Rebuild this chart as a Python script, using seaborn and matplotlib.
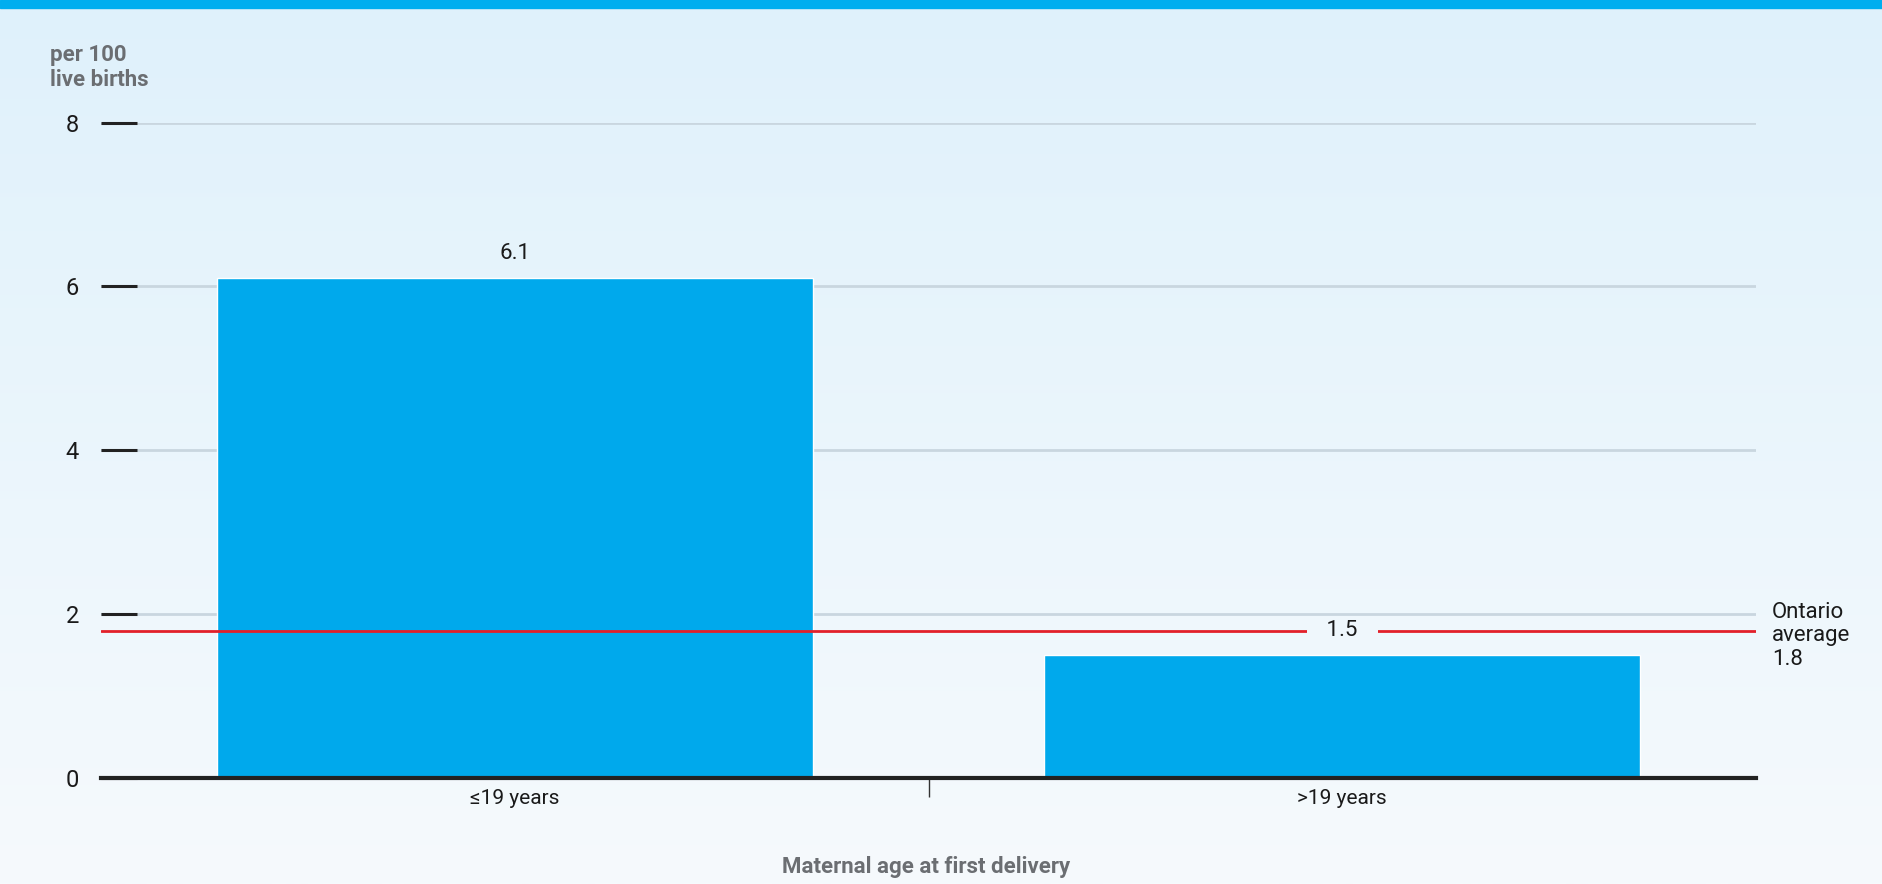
import numpy as np
import pandas as pd
import matplotlib
matplotlib.use("Agg")
import matplotlib.pyplot as plt
import matplotlib.colors as mcolors
import matplotlib.transforms as mtransforms
from matplotlib.patches import Rectangle
import seaborn as sns

# ---- data ----
categories = ["≤19 years", ">19 years"]
values = [6.1, 1.5]
value_labels = ["6.1", "1.5"]
ontario_average = 1.8
ontario_label = "Ontario\naverage\n1.8"
y_ticks = [0, 2, 4, 6, 8]
x_title = "Maternal age at first delivery"
y_title = "per 100\nlive births"

sns.set_theme(style="white")
plt.rcParams["font.family"] = ["Roboto", "DejaVu Sans"]

LIGHT = ["Roboto", "DejaVu Sans"]
BOLD = ["Liberation Sans Narrow", "Roboto", "DejaVu Sans"]
TXT = "#1a1a1a"
W_TXT = "normal"

W, H = 1883, 884
fig = plt.figure(figsize=(W / 100, H / 100), dpi=100)

# background gradient
top_c = np.array(mcolors.to_rgb("#dff1fb"))
bot_c = np.array(mcolors.to_rgb("#f6fafd"))
t = np.linspace(0, 1, 512)[:, None, None]
grad = top_c[None, None, :] * (1 - t) + bot_c[None, None, :] * t
bg = fig.add_axes([0, 0, 1, 1], zorder=-10)
bg.imshow(grad, aspect="auto", extent=[0, 1, 0, 1], origin="upper")
bg.set_xlim(0, 1); bg.set_ylim(0, 1)
bg.axis("off")
fig.patches.append(Rectangle((0, 1 - 8 / H), 1, 8 / H, transform=fig.transFigure,
                             color="#00aeef", zorder=5))

left, right = 101 / W, 1756 / W
bottom, top = 1 - 778 / H, 1 - 122.5 / H
ax = fig.add_axes([left, bottom, right - left, top - bottom])
ax.patch.set_alpha(0)

df = pd.DataFrame({"cat": categories, "val": values})
sns.barplot(data=df, x="cat", y="val", color="#00a9ec", saturation=1,
            width=0.72, ax=ax, zorder=2)

ax.set_xlim(-0.5, 1.5)
ax.set_ylim(0, 8)
ax.set_yticks(y_ticks)
ax.set_yticklabels([str(v) for v in y_ticks], fontsize=17, color=TXT,
                   family=LIGHT, fontweight=W_TXT)
ax.yaxis.grid(True, color="#c9d6df", lw=2)
ax.set_axisbelow(True)
ax.tick_params(axis="y", direction="in", length=26, width=2.2, color="#222222",
               pad=16, left=True)
for s in ["top", "right", "left"]:
    ax.spines[s].set_visible(False)
ax.spines["bottom"].set_color("#222222")
ax.spines["bottom"].set_linewidth(3)
ax.spines["bottom"].set_zorder(4)

ax.set_xticks([0, 1])
ax.set_xticklabels(categories, fontsize=15, color=TXT, family=LIGHT,
                   fontweight=W_TXT)
ax.tick_params(axis="x", length=0, pad=8)
ax.set_xticks([0.5], minor=True)
ax.tick_params(axis="x", which="minor", direction="out", length=14, width=1,
               color="#333333", bottom=True)

ax.set_xlabel("")
ax.set_ylabel("")

# Ontario average line
ax.axhline(ontario_average, color="#e2202a", lw=2, zorder=3)

# value labels
bg_at_line = top_c * (1 - 633 / H) + bot_c * (633 / H)
bars = ax.patches
for i, (bar, lab, v) in enumerate(zip(bars, value_labels, values)):
    cx = bar.get_x() + bar.get_width() / 2
    if v > ontario_average + 0.5:
        ax.annotate(lab, (cx, v), xytext=(0, 10), textcoords="offset points",
                    ha="center", va="bottom", fontsize=16, color=TXT,
                    family=LIGHT, fontweight=W_TXT)
    else:
        ax.text(cx, ontario_average, "   " + lab + "   ", ha="center",
                va="center", fontsize=16, color=TXT, family=LIGHT,
                fontweight=W_TXT, zorder=5,
                bbox=dict(boxstyle="square,pad=0.15", fc=bg_at_line, ec="none"))

trans = mtransforms.blended_transform_factory(ax.transAxes, ax.transData)
ax.text(1.0097, 2.15, ontario_label, transform=trans, ha="left", va="top",
        fontsize=16, color=TXT, family=LIGHT, fontweight=W_TXT,
        linespacing=1.15)

# titles
fig.text(50 / W, 1 - 44 / H, y_title, ha="left", va="top", fontsize=16,
         fontweight="bold", color="#6b6e72", family=BOLD, linespacing=1.2)
fig.text(926 / W, 1 - 867 / H, x_title, ha="center", va="center", fontsize=16,
         fontweight="bold", color="#6b6e72", family=BOLD)

fig.savefig("out.png", dpi=100)
